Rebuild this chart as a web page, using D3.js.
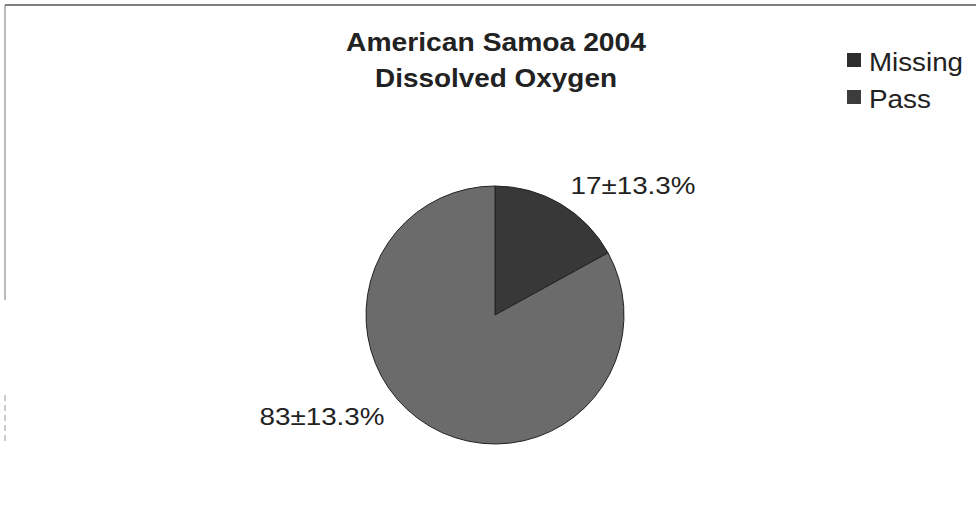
<!DOCTYPE html>
<html><head><meta charset="utf-8">
<script src="https://cdn.jsdelivr.net/npm/d3@7"></script>
<style>body{margin:0;background:#fff}svg{display:block}</style>
</head><body>
<svg id="c" width="976" height="517"></svg>
<script>
const categories = ["Missing", "Pass"];
const values = [17, 83];
const labels = ["17±13.3%", "83±13.3%"];
const colors = ["#383838", "#6b6b6b"];
const legendColors = ["#2e2e2e", "#3c3c3c"];
const titleLines = ["American Samoa 2004", "Dissolved Oxygen"];

const font = "Liberation Sans, Arial, sans-serif";
const svg = d3.select("#c");
// frame
svg.append("line").attr("x1",5).attr("y1",5).attr("x2",976).attr("y2",5).attr("stroke","#555").attr("stroke-width",1.5);
svg.append("line").attr("x1",5).attr("y1",5).attr("x2",5).attr("y2",300).attr("stroke","#777").attr("stroke-width",1);
svg.append("line").attr("x1",5).attr("y1",395).attr("x2",5).attr("y2",445).attr("stroke","#999").attr("stroke-width",1).attr("stroke-dasharray","6,4");

const titleLen = [300, 242];
svg.selectAll("text.title").data(titleLines).enter().append("text")
  .attr("x",496).attr("y",(d,i)=>51+i*36).attr("text-anchor","middle")
  .attr("font-family",font).attr("font-weight","bold")
  .attr("font-size",25).attr("fill","#222")
  .attr("textLength",(d,i)=>titleLen[i]).attr("lengthAdjust","spacingAndGlyphs").text(d=>d);

const cx=495, cy=315, r=129;
const pie = d3.pie().sort(null).value(d=>d)(values);
const arc = d3.arc().innerRadius(0).outerRadius(r);
const g = svg.append("g").attr("transform",`translate(${cx},${cy})`);
g.selectAll("path").data(pie).enter().append("path")
  .attr("d",arc).attr("fill",(d,i)=>colors[i]).attr("stroke","#222").attr("stroke-width",1);

const labelPos = [[633,194],[322,425]];
svg.selectAll("text.lbl").data(labels).enter().append("text")
  .attr("x",(d,i)=>labelPos[i][0]).attr("y",(d,i)=>labelPos[i][1]).attr("text-anchor","middle")
  .attr("font-family",font).attr("font-size",24).attr("fill","#222")
  .attr("textLength",125).attr("lengthAdjust","spacingAndGlyphs").text(d=>d);

const lg = svg.append("g");
const legLen = [94, 62];
categories.forEach((c,i)=>{
  lg.append("rect").attr("x",847).attr("y",53+i*37).attr("width",14).attr("height",14).attr("fill",legendColors[i]);
  lg.append("text").attr("x",869).attr("y",71+i*37).attr("font-family",font)
    .attr("font-size",25).attr("fill","#222")
    .attr("textLength",legLen[i]).attr("lengthAdjust","spacingAndGlyphs").text(c);
});
</script>
</body></html>
